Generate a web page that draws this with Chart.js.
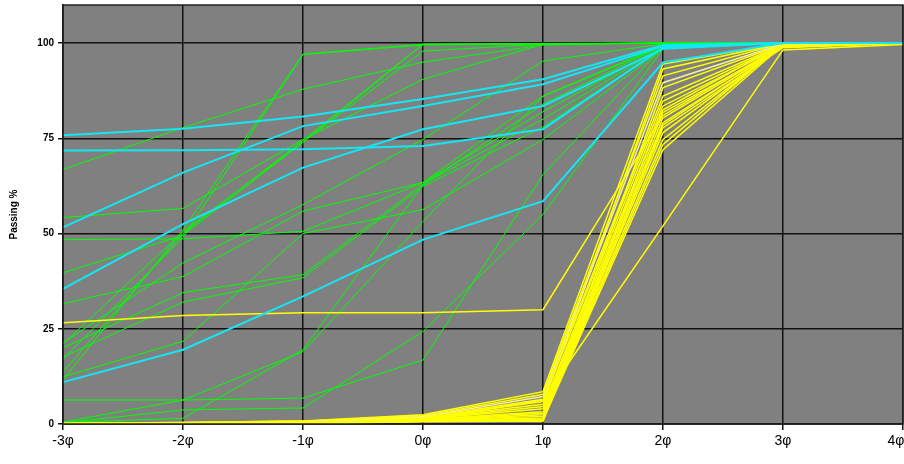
<!DOCTYPE html>
<html>
<head>
<meta charset="utf-8">
<script src="https://cdn.jsdelivr.net/npm/chart.js@4/dist/chart.umd.min.js"></script>
<style>
  html, body { margin: 0; padding: 0; background: #fff; }
  #wrap { width: 904px; height: 464px; }
</style>
</head>
<body>
<div id="wrap"><canvas id="chart" width="904" height="464"></canvas></div>
<script>
// phi classes along the x axis
const phiLabels = ['-3\u03c6', '-2\u03c6', '-1\u03c6', '0\u03c6', '1\u03c6', '2\u03c6', '3\u03c6', '4\u03c6'];
const yTickValues = [0, 25, 50, 75, 100];

// cumulative passing % per sample, one value per phi class
const cyanSeries = [
    [75.8, 77.5, 80.7, 85.3, 90.5, 99.5, 100, 100],
    [71.8, 71.9, 72.1, 73.0, 77.4, 98.8, 100, 100],
    [51.6, 66.0, 78.2, 83.5, 89.2, 99.2, 100, 100],
    [35.5, 52.5, 67.3, 77.4, 83.5, 98.5, 100, 100],
    [11.0, 19.5, 33.5, 48.4, 58.5, 94.9, 100, 100]
];

const yellowSeries = [
    [0.2, 0.4, 0.8, 2.4, 8.5, 94.5, 100, 100],
    [0.1, 0.3, 0.7, 2.2, 7.8, 91.4, 100, 100],
    [0.0, 0.3, 0.6, 2.0, 7.2, 89.6, 99.8, 100],
    [0.0, 0.2, 0.6, 1.8, 6.5, 86.1, 99.6, 100],
    [0.0, 0.2, 0.5, 1.6, 5.9, 84.8, 99.5, 100],
    [0.0, 0.2, 0.5, 1.5, 5.2, 93.2, 100, 100],
    [0.0, 0.1, 0.4, 1.4, 4.6, 83.5, 99.4, 100],
    [0.0, 0.1, 0.4, 1.3, 4.0, 81.8, 99.0, 100],
    [0.0, 0.1, 0.4, 1.2, 3.2, 80.4, 99.2, 100],
    [0.0, 0.1, 0.3, 1.1, 2.8, 79.1, 99.0, 100],
    [0.0, 0.1, 0.3, 1.0, 2.4, 77.8, 98.8, 100],
    [0.0, 0.1, 0.3, 1.0, 2.0, 76.5, 99.3, 100],
    [0.0, 0.0, 0.2, 0.9, 1.6, 74.7, 99.6, 100],
    [0.0, 0.0, 0.2, 0.8, 1.3, 73.4, 99.8, 100],
    [0.0, 0.0, 0.2, 0.8, 1.0, 72.0, 99.5, 100],
    [0.0, 0.0, 0.2, 0.7, 1.0, 88.3, 99.7, 100],
    [0.0, 0.0, 0.1, 0.7, 0.8, 78.5, 99.4, 100],
    [0.0, 0.0, 0.1, 0.6, 0.8, 82.5, 99.9, 100],
    [0.2, 0.4, 0.8, 1.2, 6.3, 52.0, 98.2, 99.6],
    [26.6, 28.5, 29.2, 29.2, 30.0, 81.0, 99.5, 100]
];

const greenSeries = [
    [66.8, 77.8, 87.9, 95.0, 99.5, 100, 100, 100],
    [11.6, 51.0, 97.1, 99.7, 99.8, 100, 100, 100],
    [54.2, 56.6, 74.7, 90.5, 99.7, 100, 100, 100],
    [48.4, 48.6, 50.6, 63.4, 86.1, 99.5, 100, 100],
    [39.7, 49.5, 74.0, 97.9, 99.7, 100, 100, 100],
    [31.6, 38.7, 55.9, 63.4, 82.0, 99.0, 100, 100],
    [21.3, 42.3, 57.6, 74.7, 95.3, 99.8, 100, 100],
    [20.0, 34.5, 39.2, 63.0, 80.0, 99.0, 100, 100],
    [17.6, 32.0, 38.4, 62.4, 78.0, 98.8, 100, 100],
    [13.7, 50.0, 74.5, 99.7, 99.8, 100, 100, 100],
    [12.4, 21.7, 50.0, 56.3, 74.7, 98.5, 100, 100],
    [6.3, 6.3, 6.8, 16.8, 65.5, 99.0, 100, 100],
    [0.3, 3.7, 4.2, 24.3, 55.0, 98.5, 100, 100],
    [0.5, 6.3, 19.0, 53.2, 86.0, 99.2, 100, 100],
    [17.0, 49.0, 97.0, 99.5, 99.8, 100, 100, 100],
    [21.0, 50.5, 74.0, 99.7, 99.9, 100, 100, 100],
    [0.4, 1.5, 19.5, 62.8, 84.0, 99.3, 100, 100]
];

function makeSet(values, color, width) {
    return {
        data: values,
        borderColor: color,
        borderWidth: width,
        pointRadius: 0,
        tension: 0,
        fill: false
    };
}

let datasets = [];
// first datasets end up on top in Chart.js
cyanSeries.forEach(s => datasets.push(makeSet(s, '#14e6f5', 2)));
yellowSeries.forEach((s, i) => datasets.push(makeSet(s, i === 2 ? '#f2eea0' : '#ffff00', 1.5)));
greenSeries.forEach(s => datasets.push(makeSet(s, '#00ff00', 1)));

// grey plot area with a dark frame round it
const plotFrame = {
    id: 'plotFrame',
    beforeDraw(chart) {
        const a = chart.chartArea;
        const ctx = chart.ctx;
        ctx.save();
        ctx.fillStyle = '#808080';
        ctx.fillRect(a.left, a.top, a.right - a.left, a.bottom - a.top);
        ctx.restore();
    },
    afterDraw(chart) {
        const a = chart.chartArea;
        const ctx = chart.ctx;
        ctx.save();
        ctx.strokeStyle = '#222';
        ctx.lineWidth = 1.5;
        ctx.strokeRect(a.left, a.top, a.right - a.left, a.bottom - a.top);
        ctx.restore();
    }
};

new Chart(document.getElementById('chart').getContext('2d'), {
    type: 'line',
    data: { labels: phiLabels, datasets: datasets },
    plugins: [plotFrame],
    options: {
        responsive: false,
        animation: false,
        layout: { padding: { top: 5, right: 1, left: 0, bottom: 0 } },
        plugins: { legend: { display: false }, tooltip: { enabled: false } },
        scales: {
            x: {
                offset: false,
                grid: { color: '#111', lineWidth: 1.5, tickLength: 6, drawOnChartArea: true },
                border: { color: '#111', width: 1.5 },
                ticks: {
                    autoSkip: false, maxRotation: 0, padding: 3,
                    color: '#000', font: { family: 'Arial, Liberation Sans, sans-serif', size: 14 },
                    // last label sits at the canvas edge, pull it in a little
                    callback: function (value, index) {
                        const lab = this.getLabelForValue(value);
                        return index === phiLabels.length - 1 ? lab + '\u2003' : lab;
                    }
                },
                afterFit: scale => { scale.height = 40; scale.paddingLeft = 0; scale.paddingRight = 0; }
            },
            y: {
                min: 0,
                max: 110,
                afterBuildTicks: axis => { axis.ticks = yTickValues.map(v => ({ value: v })); },
                grid: { color: '#111', lineWidth: 1.5, tickLength: 5 },
                border: { color: '#111', width: 1.5 },
                ticks: {
                    padding: 4, color: '#000',
                    font: { family: 'Arial, Liberation Sans, sans-serif', size: 10, weight: 'bold' }
                },
                title: {
                    display: true, text: 'Passing %', color: '#000', padding: { top: 8, bottom: 0 },
                    font: { family: 'Arial, Liberation Sans, sans-serif', size: 10, weight: 'bold' }
                },
                afterFit: scale => { scale.width = 63; scale.paddingTop = 0; scale.paddingBottom = 0; }
            }
        }
    }
});
</script>
</body>
</html>
